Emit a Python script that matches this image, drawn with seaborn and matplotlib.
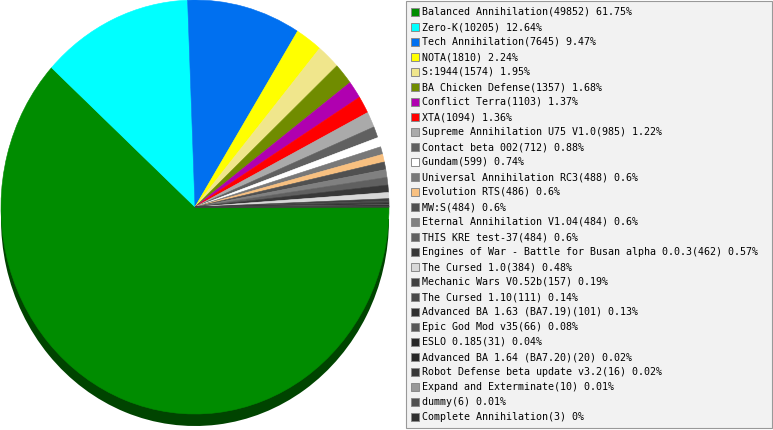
import matplotlib
matplotlib.use("Agg")
import matplotlib.pyplot as plt
import seaborn as sns
from matplotlib.patches import Rectangle

sns.set_style("white")
plt.rcParams['font.family'] = ['DejaVu Sans Mono', 'DejaVu Sans']

# mod names, game counts, percent shares (as printed in the legend)
mods = ['Balanced Annihilation', 'Zero-K', 'Tech Annihilation', 'NOTA', 'S:1944',
        'BA Chicken Defense', 'Conflict Terra', 'XTA', 'Supreme Annihilation U75 V1.0',
        'Contact beta 002', 'Gundam', 'Universal Annihilation RC3', 'Evolution RTS',
        'MW:S', 'Eternal Annihilation V1.04', 'THIS KRE test-37',
        'Engines of War - Battle for Busan alpha 0.0.3', 'The Cursed 1.0',
        'Mechanic Wars V0.52b', 'The Cursed 1.10', 'Advanced BA 1.63 (BA7.19)',
        'Epic God Mod v35', 'ESLO 0.185', 'Advanced BA 1.64 (BA7.20)',
        'Robot Defense beta update v3.2', 'Expand and Exterminate', 'dummy',
        'Complete Annihilation']
counts = [49852, 10205, 7645, 1810, 1574, 1357, 1103, 1094, 985, 712, 599, 488, 486,
          484, 484, 484, 462, 384, 157, 111, 101, 66, 31, 20, 16, 10, 6, 3]
percents = [61.75, 12.64, 9.47, 2.24, 1.95, 1.68, 1.37, 1.36, 1.22, 0.88, 0.74, 0.6, 0.6,
            0.6, 0.6, 0.6, 0.57, 0.48, 0.19, 0.14, 0.13, 0.08, 0.04, 0.02, 0.02, 0.01,
            0.01, 0]
colors = ['#008c00', '#00ffff', '#0070f0', '#ffff00', '#f0e68c', '#708c00', '#b000b0',
          '#ff0000', '#aaaaaa', '#606060', '#ffffff', '#787878', '#f8c080', '#505050',
          '#808080', '#606060', '#383838', '#d8d8d8', '#404040', '#484848', '#303030',
          '#585858', '#282828', '#282828', '#383838', '#989898', '#505050', '#303030']

fig = plt.figure(figsize=(7.73, 4.30), dpi=100)

# pie area: 388 px wide, pie 414 px tall, extra room below for the shadow
ax = fig.add_axes([1 / 773, 0, 388 / 773, 1])
shadow_cols = ['#004400'] + ['none'] * (len(counts) - 1)
ax.pie(counts, colors=shadow_cols, startangle=0, counterclock=False,
       center=(0, -0.058), wedgeprops=dict(linewidth=0))
wedges, _ = ax.pie(counts, colors=colors, startangle=0, counterclock=False,
                   wedgeprops=dict(linewidth=0.4))
for w in wedges:
    w.set_edgecolor(w.get_facecolor())
ax.set_aspect('auto')
ax.set_xlim(-1, 1)
ax.set_ylim(1 - 430 / 207, 1)
ax.axis('off')

# legend drawn in pixel coordinates
lg = fig.add_axes([0, 0, 1, 1])
lg.set_xlim(0, 773)
lg.set_ylim(430, 0)
lg.axis('off')
lg.add_patch(Rectangle((405.5, 0.5), 366, 427.5, facecolor='#f2f2f2',
                       edgecolor='#999999', linewidth=0.8))
for i, (m, c, p, col) in enumerate(zip(mods, counts, percents, colors)):
    y = 12 + i * 15
    lg.add_patch(Rectangle((410.5, y - 4.5), 8, 8, facecolor=col,
                           edgecolor='#8a8a8a', linewidth=0.7))
    lg.text(422, y, f"{m}({c}) {p:g}%", fontsize=7.2, va='center', ha='left',
            color='black')

fig.savefig('out.png', dpi=100)
